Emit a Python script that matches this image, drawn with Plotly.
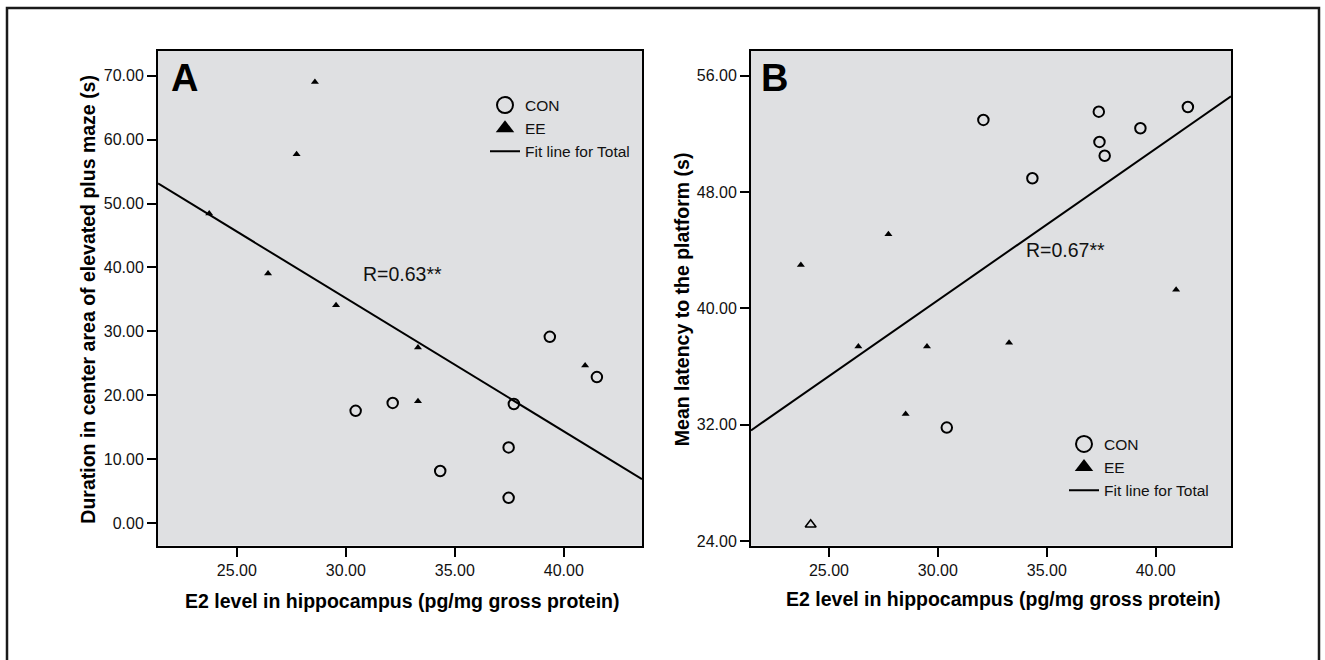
import numpy as np
import plotly.graph_objects as go

# ---------------- data ----------------
# Panel A: duration in centre area of elevated plus maze (s)
a_con_x = [30.45, 32.15, 39.36, 41.52, 37.71, 37.47, 34.33, 37.47]
a_con_y = [17.58, 18.82, 29.16, 22.86, 18.66, 11.86, 8.18, 3.98]
a_ee_x = [28.58, 27.74, 23.73, 26.43, 29.55, 33.31, 33.31, 40.98]
a_ee_y = [69.00, 57.70, 48.45, 39.07, 34.10, 27.50, 19.07, 24.66]

# Panel B: mean latency to the platform (s)
b_con_x = [32.09, 37.39, 37.42, 37.66, 39.30, 41.48, 34.34, 30.41]
b_con_y = [52.95, 53.52, 51.44, 50.49, 52.38, 53.84, 48.94, 31.80]
b_ee_x = [23.71, 27.73, 40.94, 26.35, 29.50, 28.52, 33.27]
b_ee_y = [42.97, 45.09, 41.27, 37.37, 37.37, 32.73, 37.63]
b_ee_open_x = [24.16]
b_ee_open_y = [25.13]

r_labels = ["R=0.63**", "R=0.67**"]
panel_labels = ["A", "B"]
legend_names = ["CON", "EE", "Fit line for Total"]
x_title = "E2 level in hippocampus (pg/mg gross protein)"
y_title_a = "Duration in center area of elevated plus maze (s)"
y_title_b = "Mean latency to the platform (s)"

a_xrange = [21.38, 43.59]
a_yrange = [-3.5, 73.9]
b_xrange = [21.42, 43.46]
b_yrange = [23.68, 57.71]

W, H = 1325, 660
FONT = "Liberation Sans"
BG = "#dfe0e2"


def fit_line(xs, ys, xr):
    k, b = np.polyfit(np.asarray(xs, float), np.asarray(ys, float), 1)
    xx = np.array(xr, float)
    return xx, k * xx + b


fig = go.Figure()

# ---- panel A data ----
fxa, fya = fit_line(a_con_x + a_ee_x, a_con_y + a_ee_y, a_xrange)
fig.add_trace(go.Scatter(x=fxa, y=fya, mode="lines", line=dict(color="black", width=2),
                         showlegend=False, xaxis="x", yaxis="y", hoverinfo="skip"))
fig.add_trace(go.Scatter(x=a_con_x, y=a_con_y, mode="markers", showlegend=False,
                         marker=dict(symbol="circle-open", size=10.5, color="black",
                                     line=dict(width=2, color="black")),
                         xaxis="x", yaxis="y"))
fig.add_trace(go.Scatter(x=a_ee_x, y=a_ee_y, mode="markers", showlegend=False,
                         marker=dict(symbol="triangle-up", size=7, color="black"),
                         xaxis="x", yaxis="y"))

# ---- panel B data ----
fxb, fyb = fit_line(b_con_x + b_ee_x + b_ee_open_x, b_con_y + b_ee_y + b_ee_open_y, b_xrange)
fig.add_trace(go.Scatter(x=fxb, y=fyb, mode="lines", line=dict(color="black", width=2),
                         showlegend=False, xaxis="x2", yaxis="y2", hoverinfo="skip"))
fig.add_trace(go.Scatter(x=b_con_x, y=b_con_y, mode="markers", showlegend=False,
                         marker=dict(symbol="circle-open", size=10.5, color="black",
                                     line=dict(width=2, color="black")),
                         xaxis="x2", yaxis="y2"))
fig.add_trace(go.Scatter(x=b_ee_x, y=b_ee_y, mode="markers", showlegend=False,
                         marker=dict(symbol="triangle-up", size=7, color="black"),
                         xaxis="x2", yaxis="y2"))
fig.add_trace(go.Scatter(x=b_ee_open_x, y=b_ee_open_y, mode="markers", showlegend=False,
                         marker=dict(symbol="triangle-up-open", size=9.5, color="black",
                                     line=dict(width=1.6, color="black")),
                         xaxis="x2", yaxis="y2"))

# ---- legend-only entries (one legend per panel) ----
for lg, xa, ya in [("legend", "x", "y"), ("legend2", "x2", "y2")]:
    fig.add_trace(go.Scatter(x=[None], y=[None], mode="markers", name=legend_names[0], legend=lg,
                             marker=dict(symbol="circle-open", size=16, color="black",
                                         line=dict(width=2, color="black")),
                             xaxis=xa, yaxis=ya))
    fig.add_trace(go.Scatter(x=[None], y=[None], mode="markers", name=legend_names[1], legend=lg,
                             marker=dict(symbol="triangle-up", size=16, color="black"),
                             xaxis=xa, yaxis=ya))
    fig.add_trace(go.Scatter(x=[None], y=[None], mode="lines", name=legend_names[2], legend=lg,
                             line=dict(color="black", width=2), xaxis=xa, yaxis=ya))

axis_common = dict(showgrid=False, zeroline=False, showline=True, mirror=True,
                   linecolor="black", linewidth=2, ticks="outside", ticklen=9, tickwidth=2,
                   tickcolor="black", tickformat=".2f",
                   tickfont=dict(family=FONT, size=16, color="#111111"))

dom_y = [1 - 549 / H, 1 - 51 / H]
fig.update_layout(
    width=W, height=H,
    margin=dict(l=0, r=0, t=0, b=0),
    paper_bgcolor="white", plot_bgcolor=BG,
    xaxis=dict(domain=[158 / W, 642 / W], range=a_xrange, tick0=25, dtick=5, anchor="y", **axis_common),
    yaxis=dict(domain=dom_y, range=a_yrange, tick0=0, dtick=10, anchor="x", **axis_common),
    xaxis2=dict(domain=[751 / W, 1231 / W], range=b_xrange, tick0=25, dtick=5, anchor="y2", **axis_common),
    yaxis2=dict(domain=dom_y, range=b_yrange, tick0=24, dtick=8, anchor="x2", **axis_common),
    legend=dict(x=485 / W, y=1 - 89 / H, xanchor="left", yanchor="top", bgcolor="rgba(0,0,0,0)",
                font=dict(family=FONT, size=15.5, color="#111111"), tracegroupgap=0),
    legend2=dict(x=1064 / W, y=1 - 430 / H, xanchor="left", yanchor="top", bgcolor="rgba(0,0,0,0)",
                 font=dict(family=FONT, size=15.5, color="#111111"), tracegroupgap=0),
    showlegend=True,
)

# outer frame
fig.add_shape(type="rect", xref="paper", yref="paper", x0=7 / W, x1=1319 / W,
              y0=-0.05, y1=1 - 8 / H, line=dict(color="#1a1a1a", width=2.5), fillcolor="rgba(0,0,0,0)",
              layer="below")

ann = []
# panel letters
ann.append(dict(text="<b>%s</b>" % panel_labels[0], x=184 / W, y=1 - 78 / H, xref="paper", yref="paper",
                showarrow=False, font=dict(family=FONT, size=38, color="black"),
                xanchor="center", yanchor="middle"))
ann.append(dict(text="<b>%s</b>" % panel_labels[1], x=774 / W, y=1 - 78 / H, xref="paper", yref="paper",
                showarrow=False, font=dict(family=FONT, size=38, color="black"),
                xanchor="center", yanchor="middle"))
# correlation labels
ann.append(dict(text=r_labels[0], x=361 / W, y=1 - 276 / H, xref="paper", yref="paper",
                showarrow=False, font=dict(family=FONT, size=19.5, color="#111111"),
                xanchor="left", yanchor="middle"))
ann.append(dict(text=r_labels[1], x=1024 / W, y=1 - 252 / H, xref="paper", yref="paper",
                showarrow=False, font=dict(family=FONT, size=19.5, color="#111111"),
                xanchor="left", yanchor="middle"))
# axis titles
tf = dict(family=FONT, size=19.5, color="black")
ann.append(dict(text="<b>%s</b>" % x_title, x=401.7 / W, y=1 - 605 / H, xref="paper", yref="paper",
                showarrow=False, font=tf, xanchor="center", yanchor="middle"))
ann.append(dict(text="<b>%s</b>" % x_title, x=1003 / W, y=1 - 603 / H, xref="paper", yref="paper",
                showarrow=False, font=tf, xanchor="center", yanchor="middle"))
ann.append(dict(text="<b>%s</b>" % y_title_a, x=88 / W, y=1 - 301.5 / H, xref="paper", yref="paper",
                showarrow=False, font=tf, textangle=-90, xanchor="center", yanchor="middle"))
ann.append(dict(text="<b>%s</b>" % y_title_b, x=682 / W, y=1 - 301 / H, xref="paper", yref="paper",
                showarrow=False, font=tf, textangle=-90, xanchor="center", yanchor="middle"))
fig.update_layout(annotations=ann)

fig.write_html("out.html")
